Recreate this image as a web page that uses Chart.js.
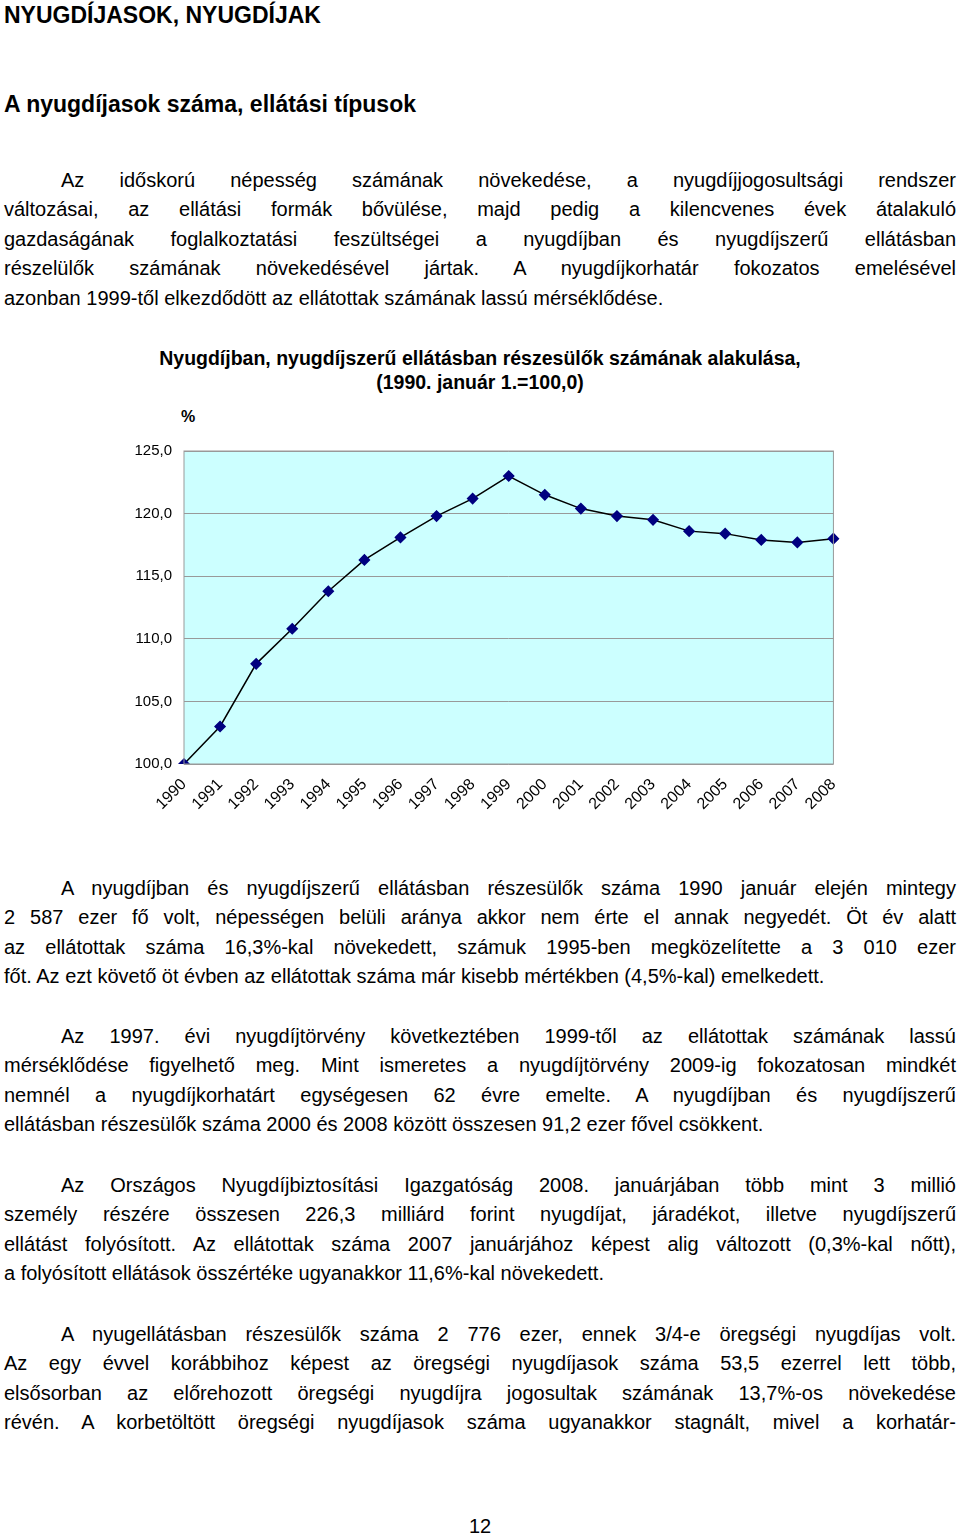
<!DOCTYPE html>
<html><head><meta charset="utf-8">
<script src="https://cdn.jsdelivr.net/npm/chart.js@4/dist/chart.umd.min.js"></script>
<style>
body{margin:0;background:#fff;font-family:"Liberation Sans",Arial,sans-serif;color:#000;}
.a{position:absolute;}
.p{position:absolute;left:4px;width:952px;font-size:20px;line-height:29.4px;}
.p div{text-align:justify;text-align-last:justify;white-space:nowrap;}
.p div.e{text-align-last:left;}
.p div.i{padding-left:57px;}
.h{font-weight:bold;font-size:23px;}
</style></head><body>
<div class="a h" style="left:4px;top:2px">NYUGDÍJASOK, NYUGDÍJAK</div>
<div class="a h" style="left:4px;top:91px">A nyugdíjasok száma, ellátási típusok</div>
<div class="p" style="top:166px">
<div class="i">Az időskorú népesség számának növekedése, a nyugdíjjogosultsági rendszer</div>
<div>változásai, az ellátási formák bővülése, majd pedig a kilencvenes évek átalakuló</div>
<div>gazdaságának foglalkoztatási feszültségei a nyugdíjban és nyugdíjszerű ellátásban</div>
<div>részelülők számának növekedésével jártak. A nyugdíjkorhatár fokozatos emelésével</div>
<div class="e">azonban 1999-től elkezdődött az ellátottak számának lassú mérséklődése.</div>
</div>
<div class="a" style="left:100px;top:346px;width:760px;text-align:center;font-weight:bold;font-size:19.5px;line-height:24px">Nyugdíjban, nyugdíjszerű ellátásban részesülők számának alakulása,<br>(1990. január 1.=100,0)</div>
<div class="a" style="left:181px;top:408px;font-weight:bold;font-size:16px">%</div>
<div class="a" style="left:110px;top:430px;width:740px;height:400px"><canvas id="c"></canvas></div>
<div class="p" style="top:874px">
<div class="i">A nyugdíjban és nyugdíjszerű ellátásban részesülők száma 1990 január elején mintegy</div>
<div>2 587 ezer fő volt, népességen belüli aránya akkor nem érte el annak negyedét. Öt év alatt</div>
<div>az ellátottak száma 16,3%-kal növekedett, számuk 1995-ben megközelítette a 3 010 ezer</div>
<div class="e">főt. Az ezt követő öt évben az ellátottak száma már kisebb mértékben (4,5%-kal) emelkedett.</div>
</div>
<div class="p" style="top:1022px">
<div class="i">Az 1997. évi nyugdíjtörvény következtében 1999-től az ellátottak számának lassú</div>
<div>mérséklődése figyelhető meg. Mint ismeretes a nyugdíjtörvény 2009-ig fokozatosan mindkét</div>
<div>nemnél a nyugdíjkorhatárt egységesen 62 évre emelte. A nyugdíjban és nyugdíjszerű</div>
<div class="e">ellátásban részesülők száma 2000 és 2008 között összesen 91,2 ezer fővel csökkent.</div>
</div>
<div class="p" style="top:1171px">
<div class="i">Az Országos Nyugdíjbiztosítási Igazgatóság 2008. januárjában több mint 3 millió</div>
<div>személy részére összesen 226,3 milliárd forint nyugdíjat, járadékot, illetve nyugdíjszerű</div>
<div>ellátást folyósított. Az ellátottak száma 2007 januárjához képest alig változott (0,3%-kal nőtt),</div>
<div class="e">a folyósított ellátások összértéke ugyanakkor 11,6%-kal növekedett.</div>
</div>
<div class="p" style="top:1320px">
<div class="i">A nyugellátásban részesülők száma 2 776 ezer, ennek 3/4-e öregségi nyugdíjas volt.</div>
<div>Az egy évvel korábbihoz képest az öregségi nyugdíjasok száma 53,5 ezerrel lett több,</div>
<div>elsősorban az előrehozott öregségi nyugdíjra jogosultak számának 13,7%-os növekedése</div>
<div>révén. A korbetöltött öregségi nyugdíjasok száma ugyanakkor stagnált, mivel a korhatár-</div>
</div>
<div class="a" style="left:469px;top:1515px;font-size:20px">12</div>
<script>
const years=['1990','1991','1992','1993','1994','1995','1996','1997','1998','1999','2000','2001','2002','2003','2004','2005','2006','2007','2008'];
const index=[100.0,103.0,108.0,110.8,113.8,116.3,118.1,119.8,121.2,123.0,121.5,120.4,119.8,119.5,118.6,118.4,117.9,117.7,118.0];
const bg={id:'bg',beforeDraw(c){const a=c.chartArea,x=c.ctx;x.save();x.fillStyle='#ccffff';x.fillRect(a.left,a.top,a.right-a.left,a.bottom-a.top);x.restore();},
afterDraw(c){const a=c.chartArea,x=c.ctx;x.save();x.strokeStyle='#999';x.lineWidth=1;x.strokeRect(a.left,a.top,a.right-a.left,a.bottom-a.top);x.restore();}};
new Chart(document.getElementById('c'),{type:'line',
data:{labels:years,datasets:[{data:index,borderColor:'#000',borderWidth:1.5,pointStyle:'rectRot',pointRadius:5,pointBackgroundColor:'#000080',pointBorderColor:'#000080',tension:0}]},
plugins:[bg],
options:{responsive:true,maintainAspectRatio:false,animation:false,layout:{padding:{top:7,right:16,left:0,bottom:0}},
plugins:{legend:{display:false},tooltip:{enabled:false}},
scales:{
x:{offset:false,grid:{display:false},border:{display:false},ticks:{color:'#000',font:{family:'Liberation Sans',size:16},maxRotation:45,minRotation:45,autoSkip:false},afterFit(s){s.height=66;}},
y:{min:100,max:125,grid:{color:'#999',drawTicks:false},border:{display:false},ticks:{stepSize:5,color:'#000',padding:12,font:{family:'Liberation Sans',size:15},callback:v=>v.toFixed(1).replace('.',',')},afterFit(s){s.width=74;}}
}}});
</script>
</body></html>
